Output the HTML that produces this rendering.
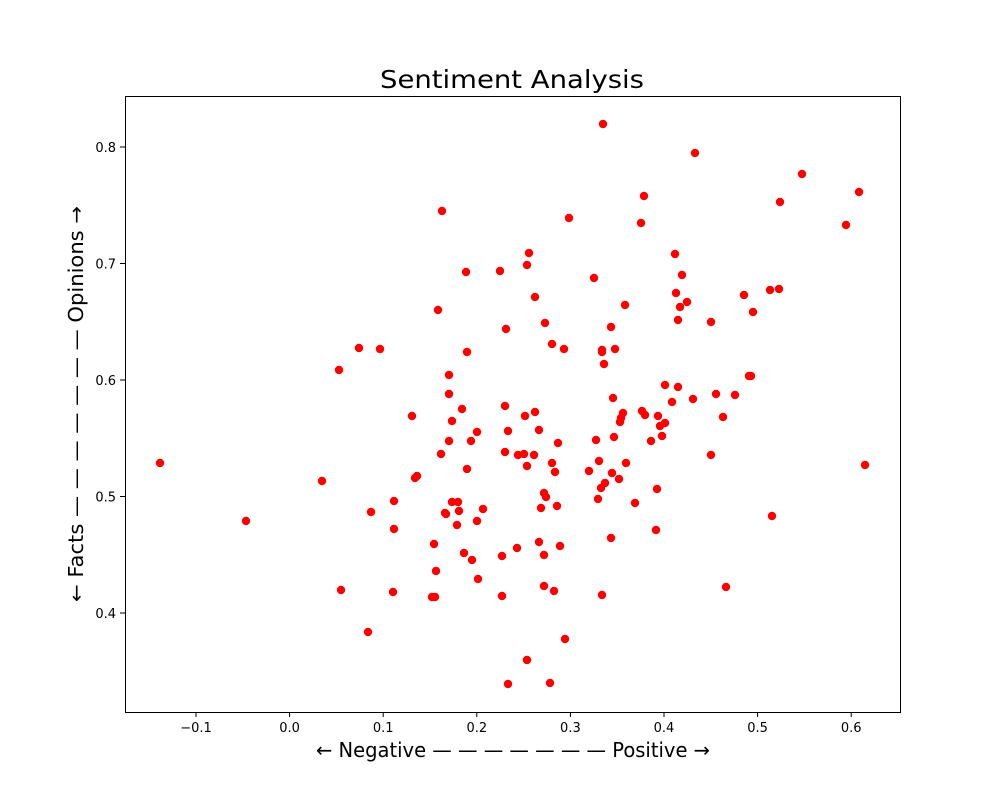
<!DOCTYPE html>
<html><head><meta charset="utf-8"><style>html,body{margin:0;padding:0;background:#fff}</style></head>
<body>
<svg width="1000" height="800" xmlns="http://www.w3.org/2000/svg" font-family="DejaVu Sans, Liberation Sans, sans-serif">
<rect width="1000" height="800" fill="#fff"/>
<text x="512" y="88" font-size="25" text-anchor="middle" textLength="264" lengthAdjust="spacingAndGlyphs">Sentiment Analysis</text>
<rect x="125.5" y="96.5" width="775" height="616" fill="none" stroke="#000" stroke-width="1"/>
<g stroke="#000" stroke-width="1">
<line x1="196" y1="712" x2="196" y2="717"/><line x1="289.6" y1="712" x2="289.6" y2="717"/><line x1="383.2" y1="712" x2="383.2" y2="717"/><line x1="476.8" y1="712" x2="476.8" y2="717"/><line x1="570.4" y1="712" x2="570.4" y2="717"/><line x1="664" y1="712" x2="664" y2="717"/><line x1="757.6" y1="712" x2="757.6" y2="717"/><line x1="851.2" y1="712" x2="851.2" y2="717"/>
<line x1="120" y1="147" x2="125" y2="147"/><line x1="120" y1="263.5" x2="125" y2="263.5"/><line x1="120" y1="380" x2="125" y2="380"/><line x1="120" y1="496.5" x2="125" y2="496.5"/><line x1="120" y1="613" x2="125" y2="613"/>
</g>
<g font-size="13" text-anchor="middle">
<text x="196" y="732">−0.1</text><text x="289.6" y="732">0.0</text><text x="383.2" y="732">0.1</text><text x="476.8" y="732">0.2</text><text x="570.4" y="732">0.3</text><text x="664" y="732">0.4</text><text x="757.6" y="732">0.5</text><text x="851.2" y="732">0.6</text>
</g>
<g font-size="13" text-anchor="end">
<text x="116" y="152">0.8</text><text x="116" y="268.5">0.7</text><text x="116" y="385">0.6</text><text x="116" y="501.5">0.5</text><text x="116" y="618">0.4</text>
</g>
<text x="513" y="757" font-size="20" text-anchor="middle" textLength="394" lengthAdjust="spacingAndGlyphs">← Negative — — — — — — — Positive →</text>
<text transform="translate(83,404) rotate(-90)" font-size="20" text-anchor="middle" textLength="396" lengthAdjust="spacingAndGlyphs">← Facts — — — — — — — Opinions →</text>
<g fill="red">
<circle cx="160" cy="463" r="4.2"/><circle cx="246" cy="521" r="4.2"/><circle cx="322" cy="481" r="4.2"/><circle cx="339" cy="370" r="4.2"/><circle cx="341" cy="590" r="4.2"/><circle cx="359" cy="348" r="4.2"/><circle cx="371" cy="512" r="4.2"/><circle cx="380" cy="349" r="4.2"/><circle cx="368" cy="632" r="4.2"/><circle cx="394" cy="501" r="4.2"/><circle cx="393" cy="592" r="4.2"/><circle cx="394" cy="529" r="4.2"/><circle cx="412" cy="416" r="4.2"/><circle cx="415" cy="478" r="4.2"/><circle cx="417" cy="476" r="4.2"/><circle cx="442" cy="211" r="4.2"/><circle cx="438" cy="310" r="4.2"/><circle cx="449" cy="394" r="4.2"/><circle cx="449" cy="375" r="4.2"/><circle cx="449" cy="441" r="4.2"/><circle cx="446" cy="514" r="4.2"/><circle cx="452" cy="421" r="4.2"/><circle cx="434" cy="544" r="4.2"/><circle cx="435" cy="597" r="4.2"/><circle cx="432" cy="597" r="4.2"/><circle cx="436" cy="571" r="4.2"/><circle cx="441" cy="454" r="4.2"/><circle cx="445" cy="513" r="4.2"/><circle cx="452" cy="502" r="4.2"/><circle cx="458" cy="502" r="4.2"/><circle cx="459" cy="511" r="4.2"/><circle cx="457" cy="525" r="4.2"/><circle cx="462" cy="409" r="4.2"/><circle cx="466" cy="272" r="4.2"/><circle cx="467" cy="352" r="4.2"/><circle cx="467" cy="469" r="4.2"/><circle cx="464" cy="553" r="4.2"/><circle cx="471" cy="441" r="4.2"/><circle cx="472" cy="560" r="4.2"/><circle cx="477" cy="432" r="4.2"/><circle cx="477" cy="521" r="4.2"/><circle cx="478" cy="579" r="4.2"/><circle cx="483" cy="509" r="4.2"/><circle cx="500" cy="271" r="4.2"/><circle cx="502" cy="556" r="4.2"/><circle cx="502" cy="596" r="4.2"/><circle cx="506" cy="329" r="4.2"/><circle cx="505" cy="406" r="4.2"/><circle cx="508" cy="431" r="4.2"/><circle cx="505" cy="452" r="4.2"/><circle cx="508" cy="684" r="4.2"/><circle cx="517" cy="548" r="4.2"/><circle cx="518" cy="455" r="4.2"/><circle cx="524" cy="454" r="4.2"/><circle cx="525" cy="416" r="4.2"/><circle cx="527" cy="466" r="4.2"/><circle cx="527" cy="660" r="4.2"/><circle cx="527" cy="265" r="4.2"/><circle cx="529" cy="253" r="4.2"/><circle cx="534" cy="455" r="4.2"/><circle cx="535" cy="412" r="4.2"/><circle cx="535" cy="297" r="4.2"/><circle cx="539" cy="430" r="4.2"/><circle cx="539" cy="542" r="4.2"/><circle cx="541" cy="508" r="4.2"/><circle cx="544" cy="586" r="4.2"/><circle cx="544" cy="555" r="4.2"/><circle cx="544" cy="493" r="4.2"/><circle cx="546" cy="497" r="4.2"/><circle cx="545" cy="323" r="4.2"/><circle cx="552" cy="344" r="4.2"/><circle cx="550" cy="683" r="4.2"/><circle cx="552" cy="463" r="4.2"/><circle cx="555" cy="472" r="4.2"/><circle cx="557" cy="506" r="4.2"/><circle cx="554" cy="591" r="4.2"/><circle cx="558" cy="443" r="4.2"/><circle cx="560" cy="546" r="4.2"/><circle cx="564" cy="349" r="4.2"/><circle cx="565" cy="639" r="4.2"/><circle cx="569" cy="218" r="4.2"/><circle cx="589" cy="471" r="4.2"/><circle cx="594" cy="278" r="4.2"/><circle cx="596" cy="440" r="4.2"/><circle cx="598" cy="499" r="4.2"/><circle cx="599" cy="461" r="4.2"/><circle cx="602" cy="352" r="4.2"/><circle cx="602" cy="350" r="4.2"/><circle cx="604" cy="364" r="4.2"/><circle cx="601" cy="488" r="4.2"/><circle cx="605" cy="483" r="4.2"/><circle cx="602" cy="595" r="4.2"/><circle cx="603" cy="124" r="4.2"/><circle cx="611" cy="327" r="4.2"/><circle cx="612" cy="473" r="4.2"/><circle cx="611" cy="538" r="4.2"/><circle cx="613" cy="398" r="4.2"/><circle cx="614" cy="437" r="4.2"/><circle cx="615" cy="349" r="4.2"/><circle cx="619" cy="479" r="4.2"/><circle cx="620" cy="422" r="4.2"/><circle cx="621" cy="418" r="4.2"/><circle cx="623" cy="413" r="4.2"/><circle cx="625" cy="305" r="4.2"/><circle cx="626" cy="463" r="4.2"/><circle cx="635" cy="503" r="4.2"/><circle cx="641" cy="223" r="4.2"/><circle cx="642" cy="411" r="4.2"/><circle cx="644" cy="196" r="4.2"/><circle cx="645" cy="415" r="4.2"/><circle cx="651" cy="441" r="4.2"/><circle cx="657" cy="489" r="4.2"/><circle cx="656" cy="530" r="4.2"/><circle cx="658" cy="416" r="4.2"/><circle cx="660" cy="426" r="4.2"/><circle cx="662" cy="436" r="4.2"/><circle cx="665" cy="423" r="4.2"/><circle cx="665" cy="385" r="4.2"/><circle cx="672" cy="402" r="4.2"/><circle cx="675" cy="254" r="4.2"/><circle cx="676" cy="293" r="4.2"/><circle cx="678" cy="320" r="4.2"/><circle cx="678" cy="387" r="4.2"/><circle cx="680" cy="307" r="4.2"/><circle cx="682" cy="275" r="4.2"/><circle cx="687" cy="302" r="4.2"/><circle cx="693" cy="399" r="4.2"/><circle cx="695" cy="153" r="4.2"/><circle cx="711" cy="322" r="4.2"/><circle cx="711" cy="455" r="4.2"/><circle cx="716" cy="394" r="4.2"/><circle cx="723" cy="417" r="4.2"/><circle cx="726" cy="587" r="4.2"/><circle cx="735" cy="395" r="4.2"/><circle cx="744" cy="295" r="4.2"/><circle cx="749" cy="376" r="4.2"/><circle cx="751" cy="376" r="4.2"/><circle cx="753" cy="312" r="4.2"/><circle cx="770" cy="290" r="4.2"/><circle cx="772" cy="516" r="4.2"/><circle cx="779" cy="289" r="4.2"/><circle cx="780" cy="202" r="4.2"/><circle cx="802" cy="174" r="4.2"/><circle cx="846" cy="225" r="4.2"/><circle cx="859" cy="192" r="4.2"/><circle cx="865" cy="465" r="4.2"/>
</g>
</svg>
</body></html>
